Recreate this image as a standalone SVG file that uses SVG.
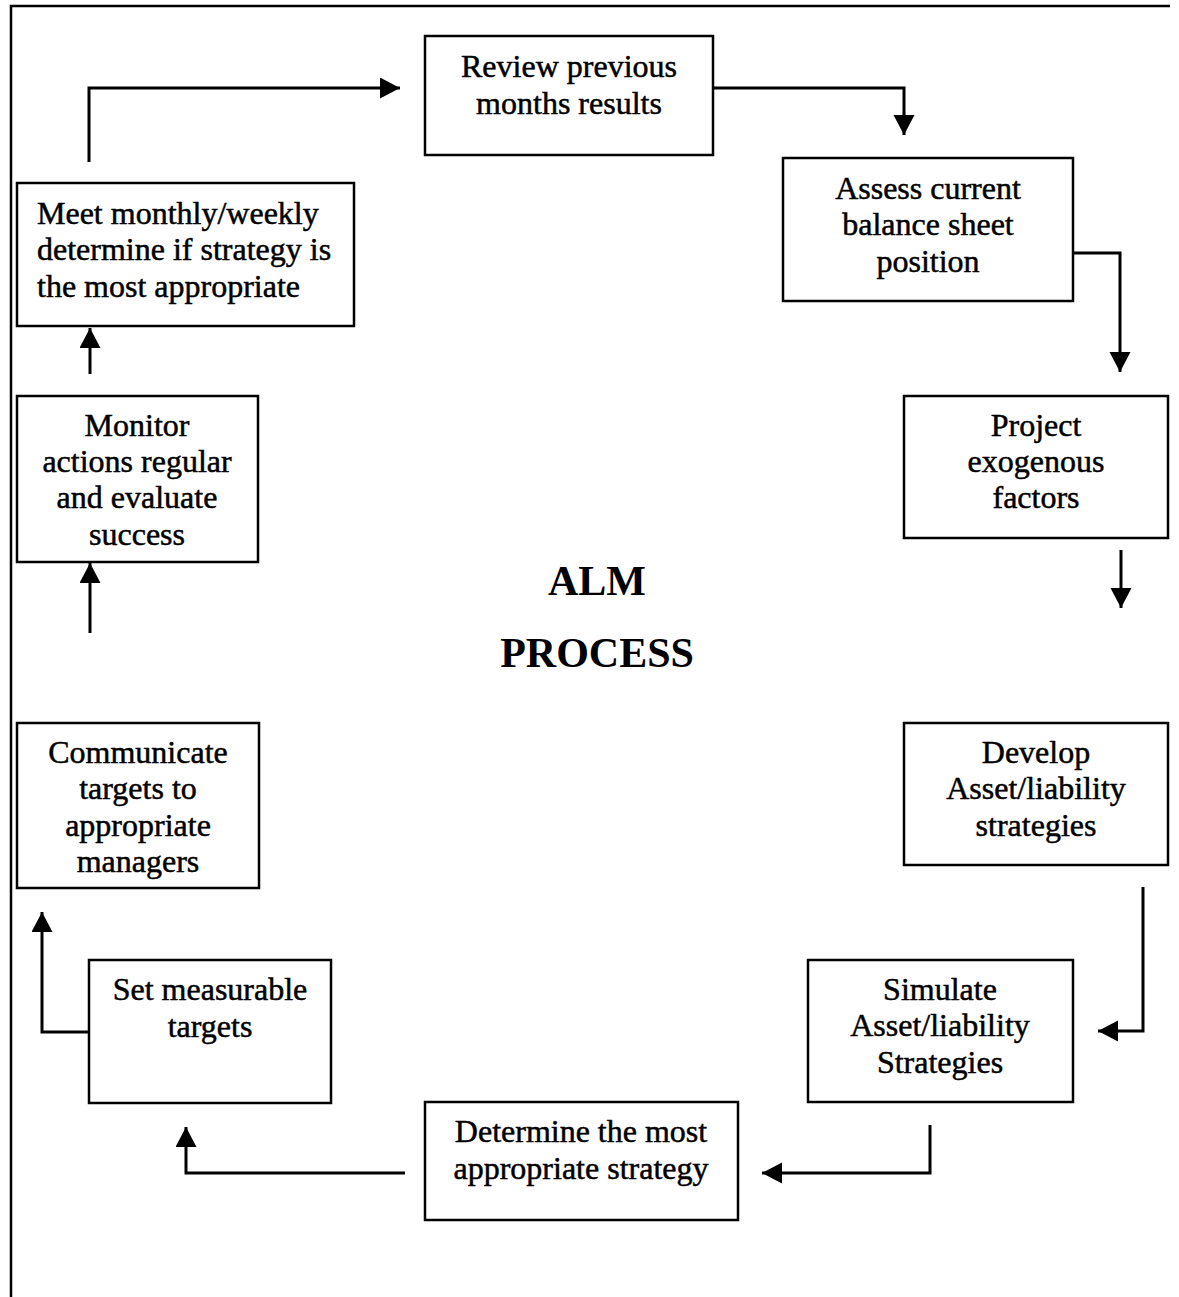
<svg xmlns="http://www.w3.org/2000/svg" width="1179" height="1297" viewBox="0 0 1179 1297">
  <style>
    .box { fill: #ffffff; stroke: #000000; stroke-width: 2.5; }
    .lbl { font-family: "Liberation Serif", "Times New Roman", serif; font-size: 32px; fill: #000000; stroke: #000000; stroke-width: 0.5; text-anchor: middle; }
    .lbl-left { text-anchor: start; }
    .title { font-family: "Liberation Serif", "Times New Roman", serif; font-size: 42px; font-weight: bold; fill: #000000; text-anchor: middle; }
    .wire { fill: none; stroke: #000000; stroke-width: 3; marker-end: url(#head); }
    .frame { fill: none; stroke: #000000; stroke-width: 2.5; }
  </style>
  <defs>
    <marker id="head" markerUnits="userSpaceOnUse" markerWidth="22" markerHeight="22" refX="20" refY="10.5" orient="auto">
      <path d="M0,0 L20,10.5 L0,21 Z" fill="#000000"/>
    </marker>
  </defs>

  <rect width="1179" height="1297" fill="#ffffff"/>

  <!-- page frame: top and left edges -->
  <path class="frame" d="M11,1297 L11,6 L1170,6"/>

  <!-- central title -->
  <g id="title">
    <text class="title" x="597" y="595">ALM</text>
    <text class="title" x="597" y="667">PROCESS</text>
  </g>

  <!-- process steps -->
  <g id="review">
    <rect class="box" x="425" y="36" width="288" height="119"/>
    <text class="lbl" x="569" y="77">Review previous</text>
    <text class="lbl" x="569" y="114">months results</text>
  </g>
  <g id="assess">
    <rect class="box" x="783" y="158" width="290" height="143"/>
    <text class="lbl" x="928" y="199">Assess current</text>
    <text class="lbl" x="928" y="235">balance sheet</text>
    <text class="lbl" x="928" y="272">position</text>
  </g>
  <g id="project">
    <rect class="box" x="904" y="396" width="264" height="142"/>
    <text class="lbl" x="1036" y="436">Project</text>
    <text class="lbl" x="1036" y="472">exogenous</text>
    <text class="lbl" x="1036" y="508">factors</text>
  </g>
  <g id="develop">
    <rect class="box" x="904" y="723" width="264" height="142"/>
    <text class="lbl" x="1036" y="763">Develop</text>
    <text class="lbl" x="1036" y="799">Asset/liability</text>
    <text class="lbl" x="1036" y="836">strategies</text>
  </g>
  <g id="simulate">
    <rect class="box" x="808" y="960" width="265" height="142"/>
    <text class="lbl" x="940" y="1000">Simulate</text>
    <text class="lbl" x="940" y="1036">Asset/liability</text>
    <text class="lbl" x="940" y="1073">Strategies</text>
  </g>
  <g id="determine">
    <rect class="box" x="425" y="1102" width="313" height="118"/>
    <text class="lbl" x="581" y="1142">Determine the most</text>
    <text class="lbl" x="581" y="1179">appropriate strategy</text>
  </g>
  <g id="set-targets">
    <rect class="box" x="89" y="960" width="242" height="143"/>
    <text class="lbl" x="210" y="1000">Set measurable</text>
    <text class="lbl" x="210" y="1037">targets</text>
  </g>
  <g id="communicate">
    <rect class="box" x="17" y="723" width="242" height="165"/>
    <text class="lbl" x="138" y="763">Communicate</text>
    <text class="lbl" x="138" y="799">targets to</text>
    <text class="lbl" x="138" y="836">appropriate</text>
    <text class="lbl" x="138" y="872">managers</text>
  </g>
  <g id="monitor">
    <rect class="box" x="17" y="396" width="241" height="166"/>
    <text class="lbl" x="137" y="436">Monitor</text>
    <text class="lbl" x="137" y="472">actions regular</text>
    <text class="lbl" x="137" y="508">and evaluate</text>
    <text class="lbl" x="137" y="545">success</text>
  </g>
  <g id="meet">
    <rect class="box" x="17" y="183" width="337" height="143"/>
    <text class="lbl lbl-left" x="37" y="224">Meet monthly/weekly</text>
    <text class="lbl lbl-left" x="37" y="260">determine if strategy is</text>
    <text class="lbl lbl-left" x="37" y="297">the most appropriate</text>
  </g>

  <!-- connectors -->
  <g id="connectors">
    <path class="wire" d="M89,162 L89,88 L400,88"/>
    <path class="wire" d="M713,88 L904,88 L904,135"/>
    <path class="wire" d="M1073,253 L1120,253 L1120,372"/>
    <path class="wire" d="M1121,550 L1121,608"/>
    <path class="wire" d="M1143,887 L1143,1031 L1098,1031"/>
    <path class="wire" d="M930,1125 L930,1173 L762,1173"/>
    <path class="wire" d="M405,1173 L186,1173 L186,1127"/>
    <path class="wire" d="M89,1032 L42,1032 L42,912"/>
    <path class="wire" d="M90,633 L90,563"/>
    <path class="wire" d="M90,374 L90,328"/>
  </g>
</svg>
